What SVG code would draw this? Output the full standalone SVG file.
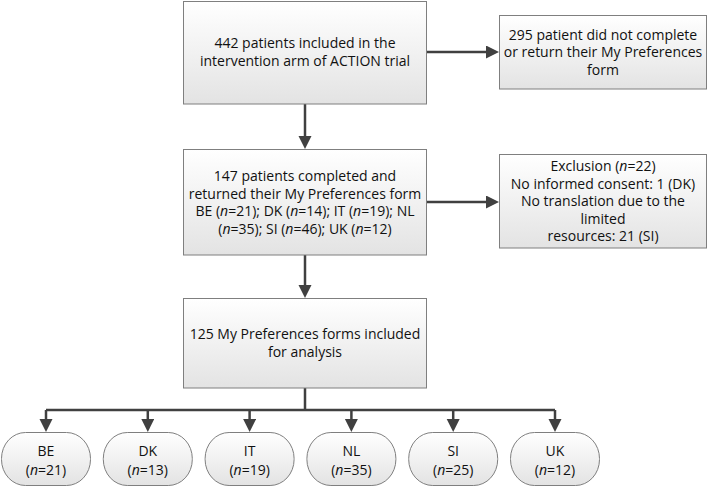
<svg xmlns="http://www.w3.org/2000/svg" width="708" height="487" viewBox="0 0 708 487">
<style>
.box{fill:url(#g);stroke:#7f7f7f;stroke-width:1}
.t{font-family:"Open Sans","Noto Sans",sans-serif;font-size:14px;fill:#111;text-anchor:middle}
.c{fill:none;stroke:#404040;stroke-width:2.5}
</style>
<defs>
<linearGradient id="g" x1="0" y1="0" x2="0" y2="1">
<stop offset="0" stop-color="#ffffff"/>
<stop offset="1" stop-color="#e3e3e3"/>
</linearGradient>
<marker id="a" markerUnits="userSpaceOnUse" markerWidth="14" markerHeight="14" refX="4" refY="6.5" orient="auto">
<path d="M0,0 L13,6.5 L0,13 z" fill="#404040"/>
</marker>
</defs>
<rect width="708" height="487" fill="#ffffff"/>
<g id="connectors">
<path class="c" d="M426,52 H490" marker-end="url(#a)"/>
<path class="c" d="M305,104 V140" marker-end="url(#a)"/>
<path class="c" d="M426,202 H490" marker-end="url(#a)"/>
<path class="c" d="M305,255 V289" marker-end="url(#a)"/>
<path class="c" d="M305,388 V410 M46,410 H555"/>
<path class="c" d="M46,410 V423" marker-end="url(#a)"/>
<path class="c" d="M147.8,410 V423" marker-end="url(#a)"/>
<path class="c" d="M249.6,410 V423" marker-end="url(#a)"/>
<path class="c" d="M351.4,410 V423" marker-end="url(#a)"/>
<path class="c" d="M453.2,410 V423" marker-end="url(#a)"/>
<path class="c" d="M555,410 V423" marker-end="url(#a)"/>
</g>
<g id="n1">
<rect class="box" x="183.5" y="1.5" width="243" height="102.5"/>
<text class="t" x="305" y="48">442 patients included in the</text>
<text class="t" x="305" y="66">intervention arm of ACTION trial</text>
</g>
<g id="n2">
<rect class="box" x="499.5" y="15.5" width="207" height="73.5"/>
<text class="t" x="603" y="39.5">295 patient did not complete</text>
<text class="t" x="603" y="57">or return their My Preferences</text>
<text class="t" x="603" y="74.5">form</text>
</g>
<g id="n3">
<rect class="box" x="183.5" y="149.5" width="243" height="105.5"/>
<text class="t" x="305" y="181">147 patients completed and</text>
<text class="t" x="305" y="198.5">returned their My Preferences form</text>
<text class="t" x="305" y="216">BE (<tspan font-style="italic">n</tspan>=21); DK (<tspan font-style="italic">n</tspan>=14); IT (<tspan font-style="italic">n</tspan>=19); NL</text>
<text class="t" x="305" y="233.5">(<tspan font-style="italic">n</tspan>=35); SI (<tspan font-style="italic">n</tspan>=46); UK (<tspan font-style="italic">n</tspan>=12)</text>
</g>
<g id="n4">
<rect class="box" x="499.5" y="154.5" width="207" height="93.5"/>
<text class="t" x="603" y="171">Exclusion (<tspan font-style="italic">n</tspan>=22)</text>
<text class="t" x="603" y="188.5">No informed consent: 1 (DK)</text>
<text class="t" x="603" y="206">No translation due to the</text>
<text class="t" x="603" y="223.5">limited</text>
<text class="t" x="603" y="241">resources: 21 (SI)</text>
</g>
<g id="n5">
<rect class="box" x="183.5" y="298.5" width="243" height="89.5"/>
<text class="t" x="305" y="339">125 My Preferences forms included</text>
<text class="t" x="305" y="357">for analysis</text>
</g>
<g id="be">
<rect class="box" x="1.5" y="432.5" width="89" height="53" rx="24" ry="26"/>
<text class="t" x="46" y="456">BE</text>
<text class="t" x="46" y="475">(<tspan font-style="italic">n</tspan>=21)</text>
</g>
<g id="dk">
<rect class="box" x="103.3" y="432.5" width="89" height="53" rx="24" ry="26"/>
<text class="t" x="147.8" y="456">DK</text>
<text class="t" x="147.8" y="475">(<tspan font-style="italic">n</tspan>=13)</text>
</g>
<g id="it">
<rect class="box" x="205.1" y="432.5" width="89" height="53" rx="24" ry="26"/>
<text class="t" x="249.6" y="456">IT</text>
<text class="t" x="249.6" y="475">(<tspan font-style="italic">n</tspan>=19)</text>
</g>
<g id="nl">
<rect class="box" x="306.9" y="432.5" width="89" height="53" rx="24" ry="26"/>
<text class="t" x="351.4" y="456">NL</text>
<text class="t" x="351.4" y="475">(<tspan font-style="italic">n</tspan>=35)</text>
</g>
<g id="si">
<rect class="box" x="408.7" y="432.5" width="89" height="53" rx="24" ry="26"/>
<text class="t" x="453.2" y="456">SI</text>
<text class="t" x="453.2" y="475">(<tspan font-style="italic">n</tspan>=25)</text>
</g>
<g id="uk">
<rect class="box" x="510.5" y="432.5" width="89" height="53" rx="24" ry="26"/>
<text class="t" x="555" y="456">UK</text>
<text class="t" x="555" y="475">(<tspan font-style="italic">n</tspan>=12)</text>
</g>
</svg>
